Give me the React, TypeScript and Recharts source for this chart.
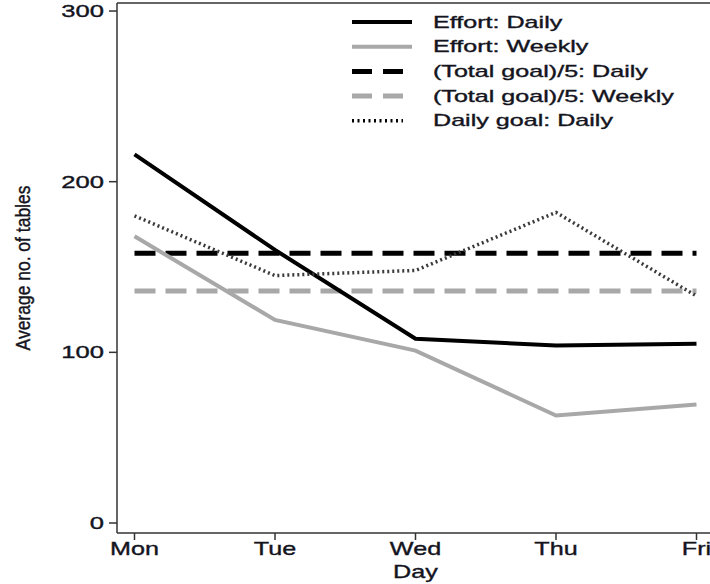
import React from "react";
import { LineChart, Line, XAxis, YAxis, Legend, ReferenceLine } from "recharts";

const days = ["Mon", "Tue", "Wed", "Thu", "Fri"];
const effortDaily = [216, 160, 108, 104, 105];
const effortWeekly = [168, 119, 101, 63, 69.5];
const totalGoalDaily = [158, 158, 158, 158, 158];
const totalGoalWeekly = [136, 136, 136, 136, 136];
const dailyGoalDaily = [180, 145, 148, 182, 133];
const yTicks = [0, 100, 200, 300];

const data = days.map((day, i) => ({
  day,
  effortDaily: effortDaily[i],
  effortWeekly: effortWeekly[i],
  totalGoalDaily: totalGoalDaily[i],
  totalGoalWeekly: totalGoalWeekly[i],
  dailyGoalDaily: dailyGoalDaily[i],
}));

const GRAY = "#a8a8a8";
const INK = "#141420";
const FONT = "'Liberation Sans', Arial, sans-serif";
const Y_MIN = -5.86;
const Y_MAX = 304.7;

const series = [
  { key: "effortDaily", name: "Effort: Daily", stroke: "#000", width: 4, dash: undefined, legendDash: undefined, legendLen: 60 },
  { key: "effortWeekly", name: "Effort: Weekly", stroke: GRAY, width: 4, dash: undefined, legendDash: undefined, legendLen: 60 },
  { key: "totalGoalDaily", name: "(Total goal)/5: Daily", stroke: "#000", width: 5, dash: "21 10", legendDash: "20 11", legendLen: 51 },
  { key: "totalGoalWeekly", name: "(Total goal)/5: Weekly", stroke: GRAY, width: 5, dash: "21 10", legendDash: "20 11", legendLen: 51 },
  { key: "dailyGoalDaily", name: "Daily goal: Daily", stroke: "#3a3a3a", width: 3.5, dash: "2 3", legendDash: "2 3.5", legendLen: 51 },
];
// dashed goals underneath, effort lines over them, dotted on top
const drawOrder = [2, 3, 0, 1, 4];

const textProps = {
  fontFamily: FONT,
  fill: INK,
  stroke: INK,
  strokeWidth: 0.35,
};

const YTick = ({ x, y, payload }: any) => (
  <text
    transform={`translate(${x},${y}) scale(1.55,1)`}
    textAnchor="end"
    dy={6}
    fontSize={16.5}
    {...textProps}
  >
    {payload.value}
  </text>
);

const XTick = ({ x, y, payload }: any) => (
  <text
    transform={`translate(${x},${y}) scale(1.4,1)`}
    textAnchor="middle"
    dy={13}
    fontSize={18}
    {...textProps}
  >
    {payload.value}
  </text>
);

const XLabel = ({ viewBox }: any) => (
  <text
    transform={`translate(${viewBox.x + viewBox.width / 2},${viewBox.y + 45}) scale(1.4,1)`}
    textAnchor="middle"
    fontSize={18}
    {...textProps}
  >
    Day
  </text>
);

const YLabel = ({ viewBox }: any) => (
  <text
    transform={`translate(30,${viewBox.y + viewBox.height / 2}) scale(1.2,1) rotate(-90)`}
    textAnchor="middle"
    fontSize={17.5}
    {...textProps}
  >
    Average no. of tables
  </text>
);

const LegendBox = () => (
  <svg width={360} height={140}>
    {series.map((s, i) => (
      <g key={s.key}>
        <line
          x1={12}
          x2={12 + s.legendLen}
          y1={22 + i * 24.7}
          y2={22 + i * 24.7}
          stroke={s.key === "dailyGoalDaily" ? "#000" : s.stroke}
          strokeWidth={s.width}
          strokeDasharray={s.legendDash}
        />
        <text
          transform={`translate(93,${27.5 + i * 24.7}) scale(1.57,1)`}
          fontSize={16}
          {...textProps}
        >
          {s.name}
        </text>
      </g>
    ))}
  </svg>
);

export default function App() {
  return (
    <div
      style={{
        position: "fixed",
        left: 0,
        top: 0,
        width: 710,
        height: 584,
        overflow: "hidden",
        background: "#fff",
      }}
    >
      <LineChart
        width={720}
        height={584}
        data={data}
        margin={{ top: 3, right: 6, left: 0, bottom: 0 }}
      >
        <XAxis
          dataKey="day"
          height={51}
          padding={{ left: 17.5, right: 17.5 }}
          axisLine={{ stroke: "#333", strokeWidth: 1.5 }}
          tickLine={{ stroke: "#333", strokeWidth: 1.5 }}
          tickSize={7}
          tickMargin={2}
          tick={<XTick />}
          interval={0}
          label={<XLabel />}
        />
        <YAxis
          width={117}
          domain={[Y_MIN, Y_MAX]}
          ticks={yTicks}
          allowDataOverflow
          axisLine={{ stroke: "#333", strokeWidth: 1.5 }}
          tickLine={{ stroke: "#333", strokeWidth: 1.5 }}
          tickSize={8}
          tickMargin={5}
          tick={<YTick />}
          label={<YLabel />}
        />
        {/* top border of the plot region */}
        <ReferenceLine y={Y_MAX} stroke="#333" strokeWidth={1.5} />
        {drawOrder.map((idx) => {
          const s = series[idx];
          return (
            <Line
              key={s.key}
              dataKey={s.key}
              name={s.name}
              stroke={s.stroke}
              strokeWidth={s.width}
              strokeDasharray={s.dash}
              dot={false}
              activeDot={false}
              isAnimationActive={false}
            />
          );
        })}
        <Legend
          layout="vertical"
          align="center"
          verticalAlign="middle"
          content={<LegendBox />}
          wrapperStyle={{ position: "absolute", left: 340, top: 0, width: 360, height: 140 }}
        />
      </LineChart>
    </div>
  );
}
